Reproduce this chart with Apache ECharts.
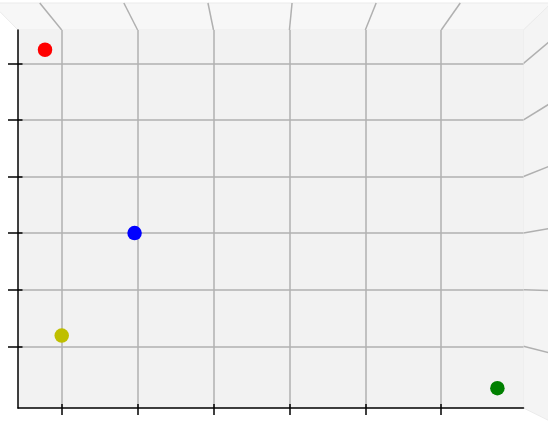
<!DOCTYPE html>
<html>
<head>
<meta charset="utf-8">
<script src="https://cdn.jsdelivr.net/npm/echarts@6/dist/echarts.min.js"></script>
<style>html,body{margin:0;padding:0;background:#fff}#c{width:548px;height:423px}</style>
</head>
<body>
<div id="c"></div>
<script>
// Data
const pointNames = ['red', 'blue', 'yellow', 'green'];
const xValues = [0.78, 1.96, 1.00, 6.74];
const yValues = [6.24, 3.00, 1.19, 0.26];
const pointColors = ['#ff0000', '#0000ff', '#bfbf00', '#008000'];
const xTicks = [1, 2, 3, 4, 5, 6];
const yTicks = [1, 2, 3, 4, 5, 6];
const xRange = [0.424, 7.084];
const yRange = [-0.091, 6.589];

const chart = echarts.init(document.getElementById('c'));

const gridColor = '#b0b0b0';
function mainX(g, showLine, inside, len) {
  return {
    type: 'value', gridIndex: g, min: xRange[0], max: xRange[1], position: 'bottom',
    axisLine: { show: showLine, onZero: false, lineStyle: { color: '#000', width: 1.5 } },
    axisTick: { show: true, inside: inside, length: len, customValues: xTicks, lineStyle: { color: '#000', width: 1.5 } },
    axisLabel: { show: false },
    splitLine: { show: showLine, lineStyle: { color: gridColor, width: 1.5 } }
  };
}
function mainY(g, showLine, inside, len) {
  return {
    type: 'value', gridIndex: g, min: yRange[0], max: yRange[1], position: 'left',
    axisLine: { show: showLine, onZero: false, lineStyle: { color: '#000', width: 1.5 } },
    axisTick: { show: true, inside: inside, length: len, customValues: yTicks, lineStyle: { color: '#000', width: 1.5 } },
    axisLabel: { show: false },
    splitLine: { show: showLine, lineStyle: { color: gridColor, width: 1.5 } }
  };
}
const gridBox = { left: 18, right: 24.5, top: 30, bottom: 15, outerBoundsMode: 'none', containLabel: false };

chart.setOption({
  animation: false,
  backgroundColor: '#ffffff',
  grid: [
    Object.assign({ show: true, backgroundColor: '#f2f2f2', borderWidth: 0 }, gridBox),
    Object.assign({ show: false }, gridBox)
  ],
  xAxis: [mainX(0, true, false, 7), mainX(1, false, true, 4)],
  yAxis: [mainY(0, true, false, 10), mainY(1, false, true, 4.5)],
  series: [{
    type: 'scatter',
    xAxisIndex: 0, yAxisIndex: 0,
    symbolSize: 14.5,
    z: 10,
    data: xValues.map((x, i) => ({
      name: pointNames[i],
      value: [x, yValues[i]],
      itemStyle: { color: pointColors[i], opacity: 1 }
    }))
  }]
});

// Perspective panes computed from the axes' scales
const tl = chart.convertToPixel({ gridIndex: 0 }, [xRange[0], yRange[1]]);
const br = chart.convertToPixel({ gridIndex: 0 }, [xRange[1], yRange[0]]);
const cx = 265, cy = 280, k = 1.108;
const P = (p) => [cx + (p[0] - cx) * k, cy + (p[1] - cy) * k];
const fTL = tl, fTR = [br[0], tl[1]], fBR = br;
const bTL = P(fTL), bTR = P(fTR), bBR = P(fBR);

const graphics = [];
graphics.push({
  type: 'polygon', z: -10, silent: true,
  shape: { points: [bTL, bTR, fTR, fTL] },
  style: { fill: '#f7f7f7', stroke: '#ebebeb', lineWidth: 1 }
});
graphics.push({
  type: 'polygon', z: -10, silent: true,
  shape: { points: [fTR, bTR, bBR, fBR] },
  style: { fill: '#f4f4f4', stroke: '#ebebeb', lineWidth: 1 }
});
xTicks.forEach(v => {
  const px = chart.convertToPixel({ xAxisIndex: 0 }, v);
  const a = [px, fTL[1]];
  graphics.push({ type: 'line', z: -5, silent: true, shape: { x1: a[0], y1: a[1], x2: P(a)[0], y2: P(a)[1] }, style: { stroke: gridColor, lineWidth: 1.5 } });
});
yTicks.forEach(v => {
  const py = chart.convertToPixel({ yAxisIndex: 0 }, v);
  const a = [fTR[0], py];
  graphics.push({ type: 'line', z: -5, silent: true, shape: { x1: a[0], y1: a[1], x2: P(a)[0], y2: P(a)[1] }, style: { stroke: gridColor, lineWidth: 1.5 } });
});
chart.setOption({ graphic: graphics });
</script>
</body>
</html>
